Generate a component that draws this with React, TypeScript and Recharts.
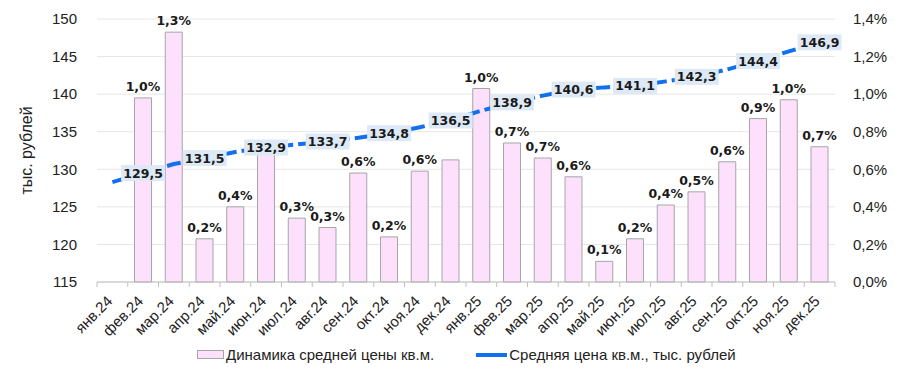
import React from "react";
import {
  ComposedChart,
  Bar,
  Line,
  XAxis,
  YAxis,
  CartesianGrid,
  LabelList,
} from "recharts";

const months = [
  "янв.24", "фев.24", "мар.24", "апр.24", "май.24", "июн.24",
  "июл.24", "авг.24", "сен.24", "окт.24", "ноя.24", "дек.24",
  "янв.25", "фев.25", "мар.25", "апр.25", "май.25", "июн.25",
  "июл.25", "авг.25", "сен.25", "окт.25", "ноя.25", "дек.25",
];

// monthly change, %
const priceChange = [
  null, 0.98, 1.33, 0.23, 0.4, 0.68,
  0.34, 0.29, 0.58, 0.24, 0.59, 0.65,
  1.03, 0.74, 0.66, 0.56, 0.11, 0.23,
  0.41, 0.48, 0.64, 0.87, 0.97, 0.72,
];

// average price per sq.m., thousand rubles
const avgPrice = [
  128.3, 129.5, 130.7, 131.5, 132.3, 132.9,
  133.3, 133.7, 134.2, 134.8, 135.6, 136.5,
  137.8, 138.9, 139.8, 140.6, 140.9, 141.1,
  141.7, 142.3, 143.3, 144.4, 145.7, 146.9,
];

const leftTicks = [115, 120, 125, 130, 135, 140, 145, 150];
const rightTicks = [0, 0.2, 0.4, 0.6, 0.8, 1.0, 1.2, 1.4];

// bar labels hidden behind the line labels in the original
const hiddenBarLabels = ["июн.24", "дек.24"];

const data = months.map((m, i) => ({
  month: m,
  change: priceChange[i],
  changeLabel: hiddenBarLabels.includes(m) ? null : priceChange[i],
  price: avgPrice[i],
  priceLabel: i % 2 === 1 ? avgPrice[i] : null,
}));

const BLUE = "#1170ee";
const PINK = "#fde0fb";
const labelFont = "'DejaVu Sans', Verdana, sans-serif";
const axisFont = "'Liberation Sans', Arial, sans-serif";
const BAND = 738 / 24;

const fmt = (v: number, d = 1) => v.toFixed(d).replace(".", ",");

const MonthTick = (props: any) => {
  const { x, y, payload, index } = props;
  const axisY = 282;
  return (
    <g>
      <line x1={x - BAND / 2} x2={x - BAND / 2} y1={axisY} y2={axisY + 5} stroke="#bfbfbf" />
      {index === months.length - 1 && (
        <line x1={x + BAND / 2} x2={x + BAND / 2} y1={axisY} y2={axisY + 5} stroke="#bfbfbf" />
      )}
      <text
        x={x + 1}
        y={y + 12}
        transform={`rotate(-45, ${x + 1}, ${y + 12})`}
        textAnchor="end"
        fontSize={15}
        fontFamily={axisFont}
        fill="#222"
      >
        {payload.value}
      </text>
    </g>
  );
};

const BarLabel = (props: any) => {
  const { x, y, width, value } = props;
  if (value == null) return null;
  return (
    <text
      x={x + width / 2}
      y={y - 7}
      textAnchor="middle"
      fontSize={12.5}
      fontWeight="bold"
      fontFamily={labelFont}
      fill="#1a1a1a"
    >
      {fmt(value) + "%"}
    </text>
  );
};

const LineLabel = (props: any) => {
  const { x, y, value } = props;
  if (value == null) return null;
  return (
    <g>
      <rect x={x - 22} y={y - 8} width={44} height={16} fill="#dde9f7" />
      <text
        x={x}
        y={y + 4.5}
        textAnchor="middle"
        fontSize={12.5}
        fontWeight="bold"
        fontFamily={labelFont}
        fill="#1a1a1a"
      >
        {fmt(value)}
      </text>
    </g>
  );
};

const ChartLegend = () => (
  <div
    style={{
      position: "absolute",
      left: 197,
      top: 346,
      display: "flex",
      alignItems: "center",
      fontFamily: axisFont,
      fontSize: 15,
      color: "#222",
      whiteSpace: "nowrap",
    }}
  >
    <span
      style={{
        display: "inline-block",
        width: 25,
        height: 7,
        background: PINK,
        border: "1px solid #a6a6a6",
        marginRight: 2,
      }}
    />
    <span>Динамика средней цены кв.м.</span>
    <span
      style={{
        display: "inline-block",
        width: 31,
        height: 4,
        background: BLUE,
        marginLeft: 42,
        marginRight: 2,
      }}
    />
    <span>Средняя цена кв.м., тыс. рублей</span>
  </div>
);

export default function App() {
  return (
    <div style={{ position: "absolute", left: 0, top: 0, width: 900, height: 376, background: "#fff" }}>
      <ComposedChart
        width={900}
        height={376}
        data={data}
        margin={{ top: 19, right: 0, left: 0, bottom: 36 }}
        barCategoryGap="22%"
      >
        <CartesianGrid yAxisId="left" vertical={false} stroke="#e6e6e6" />
        <XAxis
          dataKey="month"
          height={58}
          interval={0}
          tickLine={false}
          axisLine={{ stroke: "#bfbfbf" }}
          tick={<MonthTick />}
        />
        <YAxis
          yAxisId="left"
          orientation="left"
          width={97}
          domain={[115, 150]}
          ticks={leftTicks}
          axisLine={false}
          tickLine={false}
          tickMargin={14}
          tick={{ fontSize: 15, fontFamily: axisFont, fill: "#222" }}
          label={{
            value: "тыс. рублей",
            angle: -90,
            position: "insideLeft",
            offset: 26,
            style: { fontSize: 16, fontFamily: axisFont, fill: "#222", textAnchor: "middle" },
          }}
        />
        <YAxis
          yAxisId="right"
          orientation="right"
          width={65}
          domain={[0, 1.4]}
          ticks={rightTicks}
          axisLine={false}
          tickLine={false}
          tickMargin={12}
          tickFormatter={(v: number) => fmt(v) + "%"}
          tick={{ fontSize: 15, fontFamily: axisFont, fill: "#222" }}
        />
        <Bar
          yAxisId="right"
          dataKey="change"
          fill={PINK}
          stroke="#a6a6a6"
          strokeWidth={1}
          isAnimationActive={false}
        >
          <LabelList dataKey="changeLabel" content={<BarLabel />} />
        </Bar>
        <Line
          yAxisId="left"
          dataKey="price"
          stroke={BLUE}
          strokeWidth={4}
          strokeDasharray="14 5"
          dot={false}
          type="linear"
          isAnimationActive={false}
        >
          <LabelList dataKey="priceLabel" content={<LineLabel />} />
        </Line>
      </ComposedChart>
      <ChartLegend />
    </div>
  );
}
